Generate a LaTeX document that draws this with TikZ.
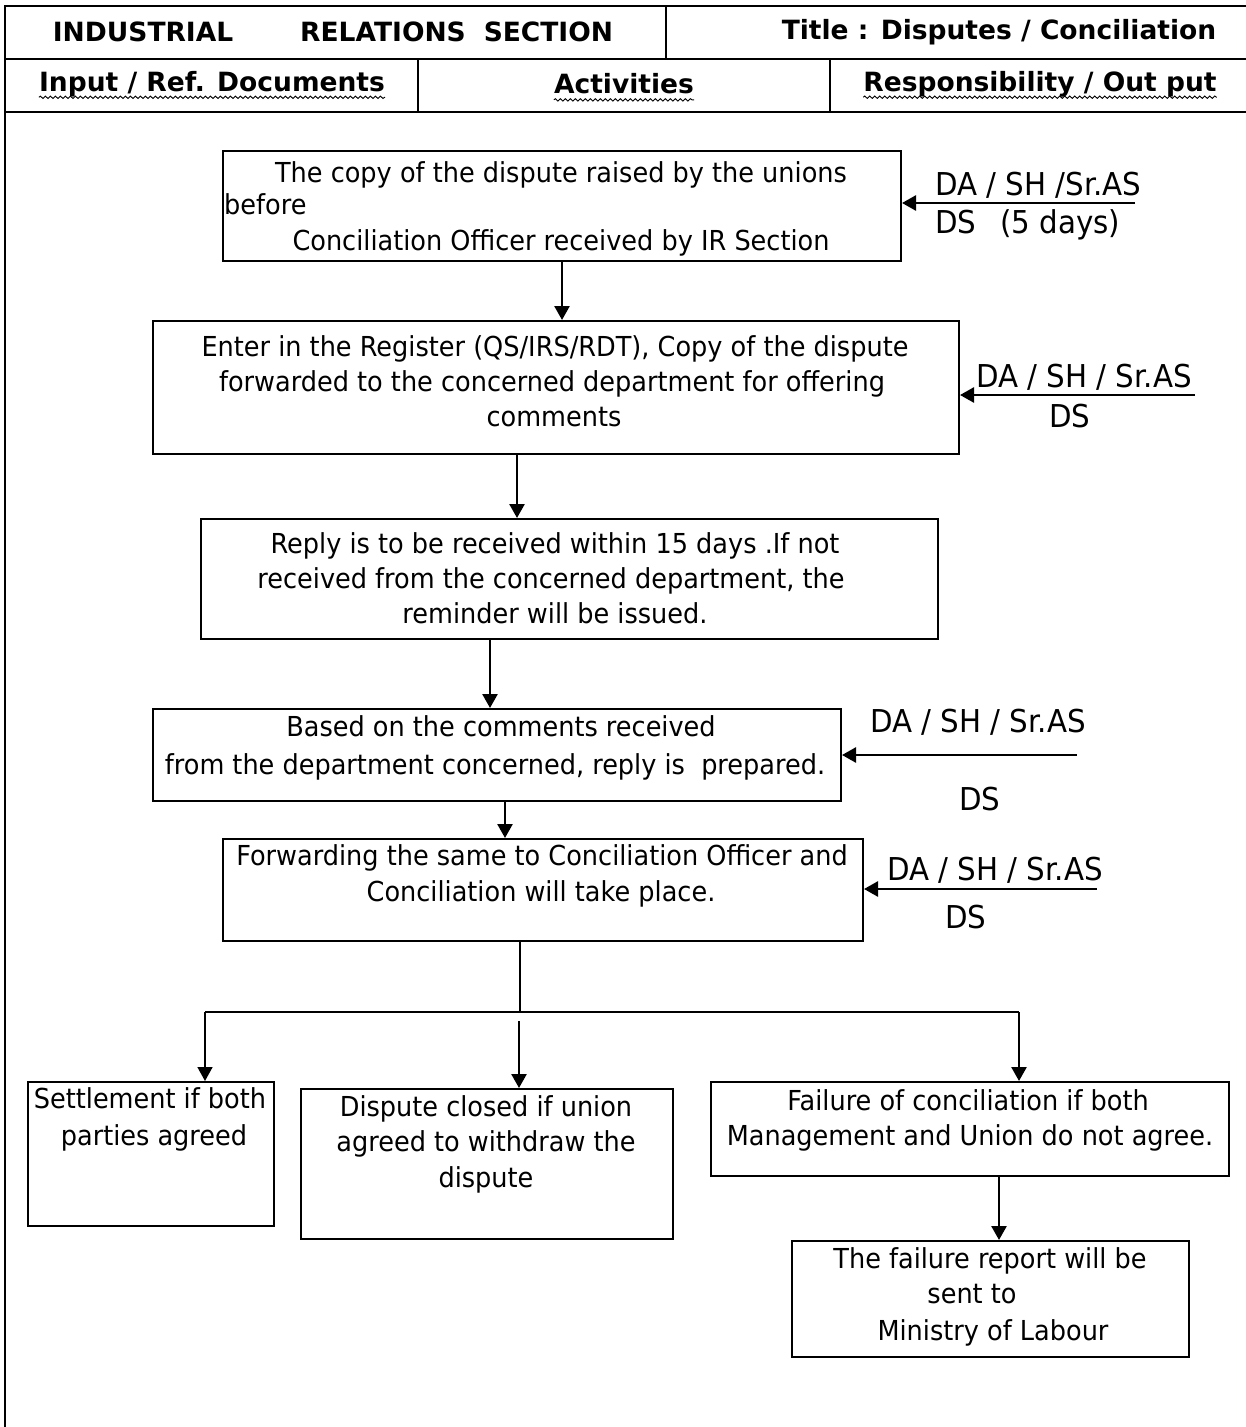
\documentclass[tikz,border=0pt]{standalone}
\usepackage{fontspec}
\setmainfont{DejaVu Sans}[FakeStretch=0.93]
\newfontfamily\hdfont{DejaVu Sans}
\usetikzlibrary{arrows.meta,decorations.pathmorphing}
\begin{document}
\begin{tikzpicture}[x=1pt,y=-1pt,
  frame/.style={line width=2.6pt},
  box/.style={draw, line width=2pt, rectangle, inner sep=0pt, anchor=north west},
  txt/.style={inner sep=0pt, anchor=base, font=\fontsize{27.5}{35.5}\selectfont},
  lbl/.style={inner sep=0pt, anchor=base west, font=\fontsize{31.5}{36}\selectfont},
  hd/.style={inner sep=0pt, font=\hdfont\bfseries\fontsize{26.5}{30}\selectfont},
  arr/.style={line width=2.6pt, -{Triangle[length=14pt,width=15pt]}},
  thinarr/.style={line width=1.6pt, -{Triangle[length=14pt,width=15pt]}},
  thinline/.style={line width=1.6pt},
  wavy/.style={decorate, decoration={snake, amplitude=1.2pt, segment length=5pt}, line width=0.9pt}
]
\useasboundingbox (0,0) rectangle (1246,1427);

% frame / header table
\draw[frame] (5,1427) -- (5,6) -- (1246,6);
\draw[frame] (5,59) -- (1246,59);
\draw[frame] (5,112) -- (1246,112);
\draw[frame] (666,6) -- (666,59);
\draw[frame] (418,59) -- (418,112);
\draw[frame] (830,59) -- (830,112);

\node[hd] (h1) at (333,32) {INDUSTRIAL\hspace*{67pt}RELATIONS\hspace*{18pt}SECTION};
\node[hd] (h2) at (999,32) {Title : Disputes / Conciliation};
\node[hd] (h3) at (212,84) {Input / Ref. Documents};
\node[hd] (h4) at (624,84) {Activities};
\node[hd] (h5) at (1040,84) {Responsibility / Out put};
\foreach \h in {h3,h4,h5}{
  \draw[wavy] ([yshift=-6pt]\h.base west) -- ([yshift=-6pt]\h.base east);
}

% boxes
\node[box, minimum width=678pt, minimum height=110pt] (b1) at (222,150) {};
\node[box, minimum width=806pt, minimum height=133pt] (b2) at (152,320) {};
\node[box, minimum width=737pt, minimum height=120pt] (b3) at (200,518) {};
\node[box, minimum width=688pt, minimum height=92pt] (b4) at (152,708) {};
\node[box, minimum width=640pt, minimum height=102pt] (b5) at (222,838) {};
\node[box, minimum width=246pt, minimum height=144pt] (b6) at (27,1081) {};
\node[box, minimum width=372pt, minimum height=150pt] (b7) at (300,1088) {};
\node[box, minimum width=518pt, minimum height=94pt] (b8) at (710,1081) {};
\node[box, minimum width=397pt, minimum height=116pt] (b9) at (791,1240) {};

% box texts
\node[txt] (t1a) at (561,182) {The copy of the dispute raised by the unions};
\node[txt, anchor=base west] (t1b) at (224,214) {before};
\node[txt] (t1c) at (561,250) {Conciliation Officer received by IR Section};

\node[txt] (t2a) at (555,356) {Enter in the Register (QS/IRS/RDT), Copy of the dispute};
\node[txt] (t2b) at (552,391) {forwarded to the concerned department for offering};
\node[txt] (t2c) at (554,426) {comments};

\node[txt] (t3a) at (555,553) {Reply is to be received within 15 days .If not};
\node[txt] (t3b) at (551,588) {received from the concerned department, the};
\node[txt] (t3c) at (555,623) {reminder will be issued.};

\node[txt] (t4a) at (501,736) {Based on the comments received};
\node[txt] (t4b) at (495,774) {from the department concerned, reply is~ prepared.};

\node[txt] (t5a) at (542,865) {Forwarding the same to Conciliation Officer and};
\node[txt] (t5b) at (541,901) {Conciliation will take place.};

\node[txt] (t6a) at (150,1108) {Settlement if both};
\node[txt] (t6b) at (154,1145) {parties agreed};

\node[txt] (t7a) at (486,1116) {Dispute closed if union};
\node[txt] (t7b) at (486,1151) {agreed to withdraw the};
\node[txt] (t7c) at (486,1187) {dispute};

\node[txt] (t8a) at (968,1110) {Failure of conciliation if both};
\node[txt] (t8b) at (970,1145) {Management and Union do not agree.};

\node[txt] (t9a) at (990,1268) {The failure report will be};
\node[txt] (t9b) at (972,1303) {sent to};
\node[txt] (t9c) at (993,1340) {Ministry of Labour};

% responsibility labels
\node[lbl] (l1a) at (935,195) {DA / SH /Sr.AS};
\node[lbl] (l1b) at (935,233) {DS\hspace*{24pt}(5 days)};
\node[lbl] (l2a) at (976,387) {DA / SH / Sr.AS};
\node[lbl] (l2b) at (1049,427) {DS};
\node[lbl] (l3a) at (870,732) {DA / SH / Sr.AS};
\node[lbl] (l3b) at (959,810) {DS};
\node[lbl] (l4a) at (887,880) {DA / SH / Sr.AS};
\node[lbl] (l4b) at (945,928) {DS};

% right-hand arrows
\coordinate (r1) at (1135,203);
\coordinate (r2) at (1195,395);
\coordinate (r3) at (1077,755);
\coordinate (r4) at (1097,889);
\draw[arr] (r1) -- (r1 -| b1.east);
\draw[arr] (r2) -- (r2 -| b2.east);
\draw[arr] (r3) -- (r3 -| b4.east);
\draw[arr] (r4) -- (r4 -| b5.east);

% vertical flow
\coordinate (v12) at (562,0);
\coordinate (v23) at (517,0);
\coordinate (v34) at (490,0);
\coordinate (v45) at (505,0);
\coordinate (v5) at (520,0);
\coordinate (v89) at (999,0);
\draw[arr] (v12 |- b1.south) -- (v12 |- b2.north);
\draw[arr] (v23 |- b2.south) -- (v23 |- b3.north);
\draw[arr] (v34 |- b3.south) -- (v34 |- b4.north);
\draw[arr] (v45 |- b4.south) -- (v45 |- b5.north);

\coordinate (jn) at (520,1012);
\coordinate (hl) at (205,1012);
\coordinate (hr) at (1019,1012);
\coordinate (m0) at (519,1021);
\draw[thinline] (v5 |- b5.south) -- (jn);
\draw[thinline] (hl) -- (hr);
\draw[thinarr] (hl) -- (hl |- b6.north);
\draw[arr] (m0) -- (m0 |- b7.north);
\draw[arr] (hr) -- (hr |- b8.north);
\draw[arr] (v89 |- b8.south) -- (v89 |- b9.north);
\end{tikzpicture}
\end{document}
